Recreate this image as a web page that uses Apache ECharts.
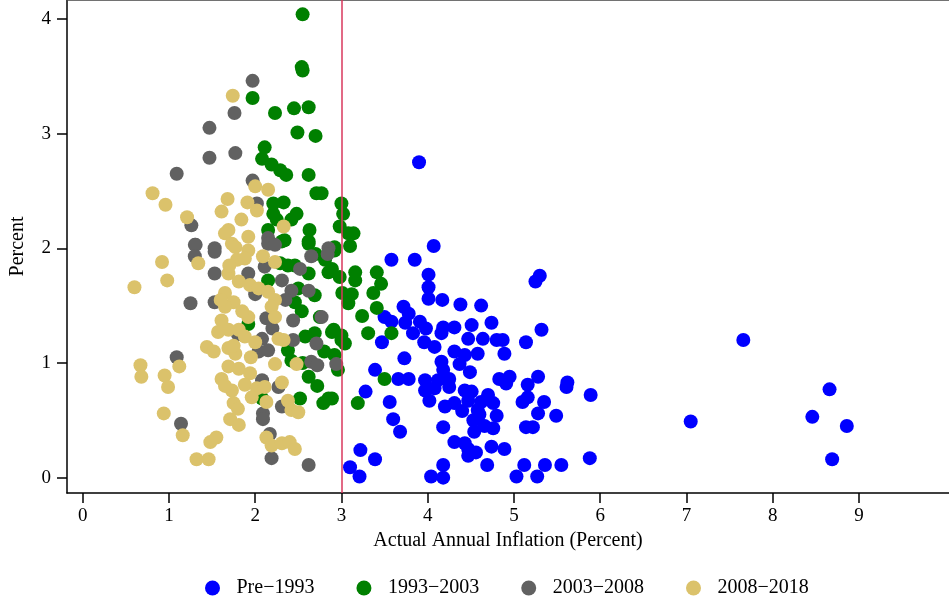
<!DOCTYPE html>
<html>
<head>
<meta charset="utf-8">
<script src="https://cdn.jsdelivr.net/npm/echarts@6/dist/echarts.min.js"></script>
<style>html,body{margin:0;padding:0;background:#fff}#c{width:949px;height:600px}</style>
</head>
<body>
<div id="c"></div>
<script>
const seriesNames = ['Pre\u22121993', '1993\u22122003', '2003\u22122008', '2008\u22122018'];
const xTicks = [0, 1, 2, 3, 4, 5, 6, 7, 8, 9];
const yTicks = [0, 1, 2, 3, 4];
const targetInflation = 3;

const pre1993 = [
  [3.90,2.75],[4.07,2.02],[3.58,1.90],[3.85,1.90],[4.01,1.77],[4.01,1.66],[4.01,1.56],[4.17,1.55],
  [4.38,1.51],[4.62,1.50],[5.30,1.76],[5.25,1.71],[3.72,1.49],[3.78,1.43],[3.50,1.40],[3.58,1.36],
  [3.74,1.35],[3.91,1.36],[3.98,1.30],[4.18,1.31],[4.31,1.31],[4.51,1.33],[4.74,1.35],[5.32,1.29],
  [3.47,1.18],[3.73,1.04],[3.83,1.26],[3.96,1.18],[4.08,1.14],[4.16,1.26],[4.47,1.21],[4.64,1.21],
  [4.80,1.20],[4.87,1.20],[5.14,1.18],[4.89,1.08],[4.31,1.10],[4.43,1.07],[4.58,1.08],[4.37,0.99],
  [4.16,1.01],[4.18,0.94],[4.49,0.92],[3.39,0.94],[3.66,0.86],[3.78,0.86],[3.97,0.85],[4.12,0.85],
  [4.25,0.86],[4.25,0.79],[3.97,0.76],[4.08,0.78],[4.02,0.67],[4.43,0.76],[4.51,0.75],[4.83,0.86],
  [4.95,0.88],[4.91,0.82],[5.28,0.88],[5.16,0.81],[5.62,0.83],[5.61,0.79],[5.89,0.72],[3.28,0.75],
  [3.56,0.66],[3.60,0.51],[3.68,0.40],[4.20,0.62],[4.31,0.65],[4.47,0.67],[4.62,0.66],[4.76,0.65],
  [4.80,0.54],[4.58,0.59],[4.53,0.50],[4.76,0.43],[4.18,0.44],[4.54,0.40],[4.31,0.31],[4.43,0.30],
  [4.47,0.25],[4.47,0.19],[4.56,0.22],[4.74,0.27],[4.89,0.25],[5.10,0.66],[5.16,0.70],[5.28,0.56],
  [5.35,0.66],[5.49,0.54],[5.14,0.44],[5.22,0.44],[3.22,0.24],[3.39,0.16],[3.10,0.09],[3.21,0.01],
  [4.18,0.11],[4.04,0.01],[4.18,0.00],[4.69,0.11],[5.03,0.01],[5.12,0.11],[5.27,0.01],[5.36,0.11],
  [5.55,0.11],[5.88,0.17],[7.66,1.20],[7.05,0.49],[8.66,0.77],[8.46,0.53],[8.86,0.45],[8.69,0.16],
  [4.60,0.55],[4.66,0.45],[4.40,0.58],[4.70,0.72]
];

const y1993 = [
  [2.55,4.04],[2.54,3.58],[2.55,3.55],[1.97,3.31],[2.23,3.18],[2.45,3.22],[2.62,3.23],[2.49,3.01],
  [2.70,2.98],[2.11,2.88],[2.08,2.78],[2.19,2.73],[2.29,2.68],[2.36,2.64],[2.62,2.64],[2.71,2.48],
  [2.21,2.39],[2.33,2.40],[3.00,2.39],[3.02,2.30],[2.21,2.30],[2.48,2.30],[2.42,2.25],[2.25,2.25],
  [2.98,2.19],[2.63,2.16],[2.15,2.16],[2.34,2.07],[2.62,2.06],[2.92,2.01],[3.08,2.13],[3.14,2.13],
  [3.10,2.02],[2.77,2.48],[2.81,1.90],[2.89,1.82],[2.98,1.75],[3.16,1.79],[3.16,1.72],[3.41,1.79],
  [3.46,1.69],[3.37,1.61],[3.01,1.61],[3.12,1.60],[3.08,1.52],[3.41,1.48],[3.24,1.41],[2.91,1.29],
  [3.31,1.26],[3.58,1.26],[2.89,1.27],[3.00,1.24],[3.04,1.17],[2.92,1.07],[2.96,0.94],[3.50,0.86],
  [2.85,0.69],[3.19,0.65],[2.29,1.87],[2.46,1.85],[2.62,1.78],[2.85,1.79],[2.92,1.98],[2.62,2.04],
  [2.31,2.06],[2.46,1.53],[2.69,1.59],[2.54,1.45],[2.58,1.23],[2.69,1.26],[3.00,1.20],[2.42,1.02],
  [2.62,0.88],[2.52,0.69],[2.79,0.65],[2.89,0.69],[2.08,0.69],[2.15,1.72],[1.92,1.34],[2.38,1.11],
  [2.75,1.40],[2.50,1.65],[2.80,1.10],[2.55,1.00],[2.72,0.80],[2.38,1.85],[2.70,1.95]
];

const y2003 = [
  [1.97,3.46],[1.76,3.18],[1.47,3.05],[1.47,2.79],[1.77,2.83],[1.09,2.65],[1.97,2.59],[2.02,2.39],
  [1.26,2.20],[1.31,2.03],[1.53,2.00],[2.15,2.09],[2.85,2.00],[1.30,2.03],[1.53,1.97],[1.30,1.93],
  [1.53,1.78],[1.92,1.78],[2.15,2.04],[2.23,2.03],[2.11,1.84],[2.65,1.93],[2.84,1.95],[2.52,1.82],
  [2.31,1.72],[2.42,1.63],[2.62,1.63],[1.25,1.52],[1.53,1.53],[2.13,1.39],[2.44,1.37],[2.77,1.40],
  [2.44,1.20],[2.71,1.17],[2.08,1.21],[2.04,1.10],[2.15,1.11],[2.65,1.01],[2.72,0.98],[2.94,0.99],
  [1.09,1.05],[2.08,0.85],[2.31,0.62],[2.09,0.56],[2.09,0.51],[1.14,0.47],[2.17,0.38],[2.19,0.17],
  [2.62,0.11],[2.27,0.79],[2.00,1.60],[2.20,1.30],[1.80,1.25],[2.35,1.55]
];

const y2008 = [
  [1.74,3.33],[0.81,2.48],[0.96,2.38],[1.68,2.43],[1.91,2.40],[2.00,2.54],[2.15,2.51],[2.02,2.33],
  [1.61,2.32],[1.84,2.25],[1.21,2.27],[1.69,2.16],[1.65,2.13],[1.92,2.10],[2.33,2.19],[1.73,2.04],
  [0.92,1.88],[0.98,1.72],[0.60,1.66],[1.34,1.87],[1.77,2.01],[1.92,1.98],[1.79,1.90],[1.88,1.91],
  [2.09,1.93],[2.23,1.88],[1.69,1.78],[1.81,1.71],[1.94,1.68],[2.04,1.65],[2.15,1.62],[2.23,1.55],
  [1.65,1.61],[1.75,1.53],[1.65,1.49],[1.92,1.40],[2.19,1.49],[2.23,1.40],[1.61,1.37],[1.69,1.29],
  [1.57,1.27],[1.81,1.29],[1.88,1.23],[2.00,1.18],[2.27,1.21],[2.33,1.20],[1.44,1.14],[1.52,1.10],
  [1.69,1.13],[1.77,1.08],[1.69,0.97],[1.81,0.95],[2.23,0.99],[2.48,0.99],[0.67,0.98],[0.68,0.88],
  [0.95,0.89],[0.99,0.79],[1.12,0.97],[1.61,0.86],[1.94,0.91],[1.73,0.76],[1.88,0.81],[2.02,0.78],
  [2.11,0.79],[2.31,0.83],[1.75,0.65],[1.96,0.70],[2.13,0.66],[1.71,0.51],[1.81,0.46],[2.38,0.67],
  [2.42,0.59],[2.50,0.57],[0.94,0.56],[1.16,0.37],[1.48,0.31],[1.55,0.35],[2.13,0.35],[2.19,0.28],
  [2.31,0.30],[2.40,0.31],[2.46,0.25],[1.32,0.16],[1.46,0.16],[1.70,1.85],[1.60,1.55],[1.85,1.45],
  [1.75,1.15],[1.95,1.05],[1.65,0.80],[1.80,0.60]
];

const seriesData = [pre1993, y1993, y2003, y2008];
const colors = ['#0000ff', '#008000', '#616161', '#dbc26b'];
const serif = '"Liberation Serif", "DejaVu Serif", serif';

const chart = echarts.init(document.getElementById('c'), null, {renderer: 'canvas'});
const series = seriesData.map((d, i) => ({
  name: seriesNames[i],
  type: 'scatter',
  data: d,
  symbol: 'circle',
  symbolSize: 14,
  itemStyle: {color: colors[i], opacity: 1},
  z: 2 + i
}));
series[0].markLine = {
  silent: true,
  symbol: ['none', 'none'],
  label: {show: false},
  lineStyle: {color: '#d8375c', type: 'solid', width: 1.5},
  data: [{xAxis: targetInflation}]
};

const axisText = {fontFamily: serif, fontSize: 19, color: '#000'};
const nameText = {fontFamily: serif, fontSize: 20, color: '#000'};

chart.setOption({
  animation: false,
  backgroundColor: '#fff',
  grid: {left: 64, top: 0, right: 0, bottom: 107},
  legend: {
    data: seriesNames,
    left: 200, top: 573,
    icon: 'circle',
    itemWidth: 38, itemHeight: 15, itemGap: 42,
    textStyle: nameText
  },
  xAxis: [{
    type: 'value', min: -0.182, max: 10.045,
    name: 'Actual Annual Inflation (Percent)',
    nameLocation: 'middle', nameGap: 35,
    nameTextStyle: nameText,
    axisLine: {show: true, onZero: false, lineStyle: {color: '#000', width: 1.5}},
    axisTick: {show: true, length: 10, customValues: xTicks, lineStyle: {color: '#000', width: 1.5}},
    axisLabel: Object.assign({customValues: xTicks, margin: 14}, axisText),
    splitLine: {show: false}
  }, {
    type: 'value', position: 'top', min: -0.182, max: 10.045,
    axisLine: {show: true, onZero: false, lineStyle: {color: '#444', width: 1.5}},
    axisTick: {show: false}, axisLabel: {show: false}, splitLine: {show: false}
  }],
  yAxis: {
    type: 'value', min: -0.134, max: 4.165,
    name: 'Percent',
    nameLocation: 'middle', nameGap: 39,
    nameTextStyle: nameText,
    axisLine: {show: true, onZero: false, lineStyle: {color: '#000', width: 1.5}},
    axisTick: {show: true, length: 10, customValues: yTicks, lineStyle: {color: '#000', width: 1.5}},
    axisLabel: Object.assign({customValues: yTicks, margin: 16}, axisText),
    splitLine: {show: false}
  },
  series: series
});
</script>
</body>
</html>
